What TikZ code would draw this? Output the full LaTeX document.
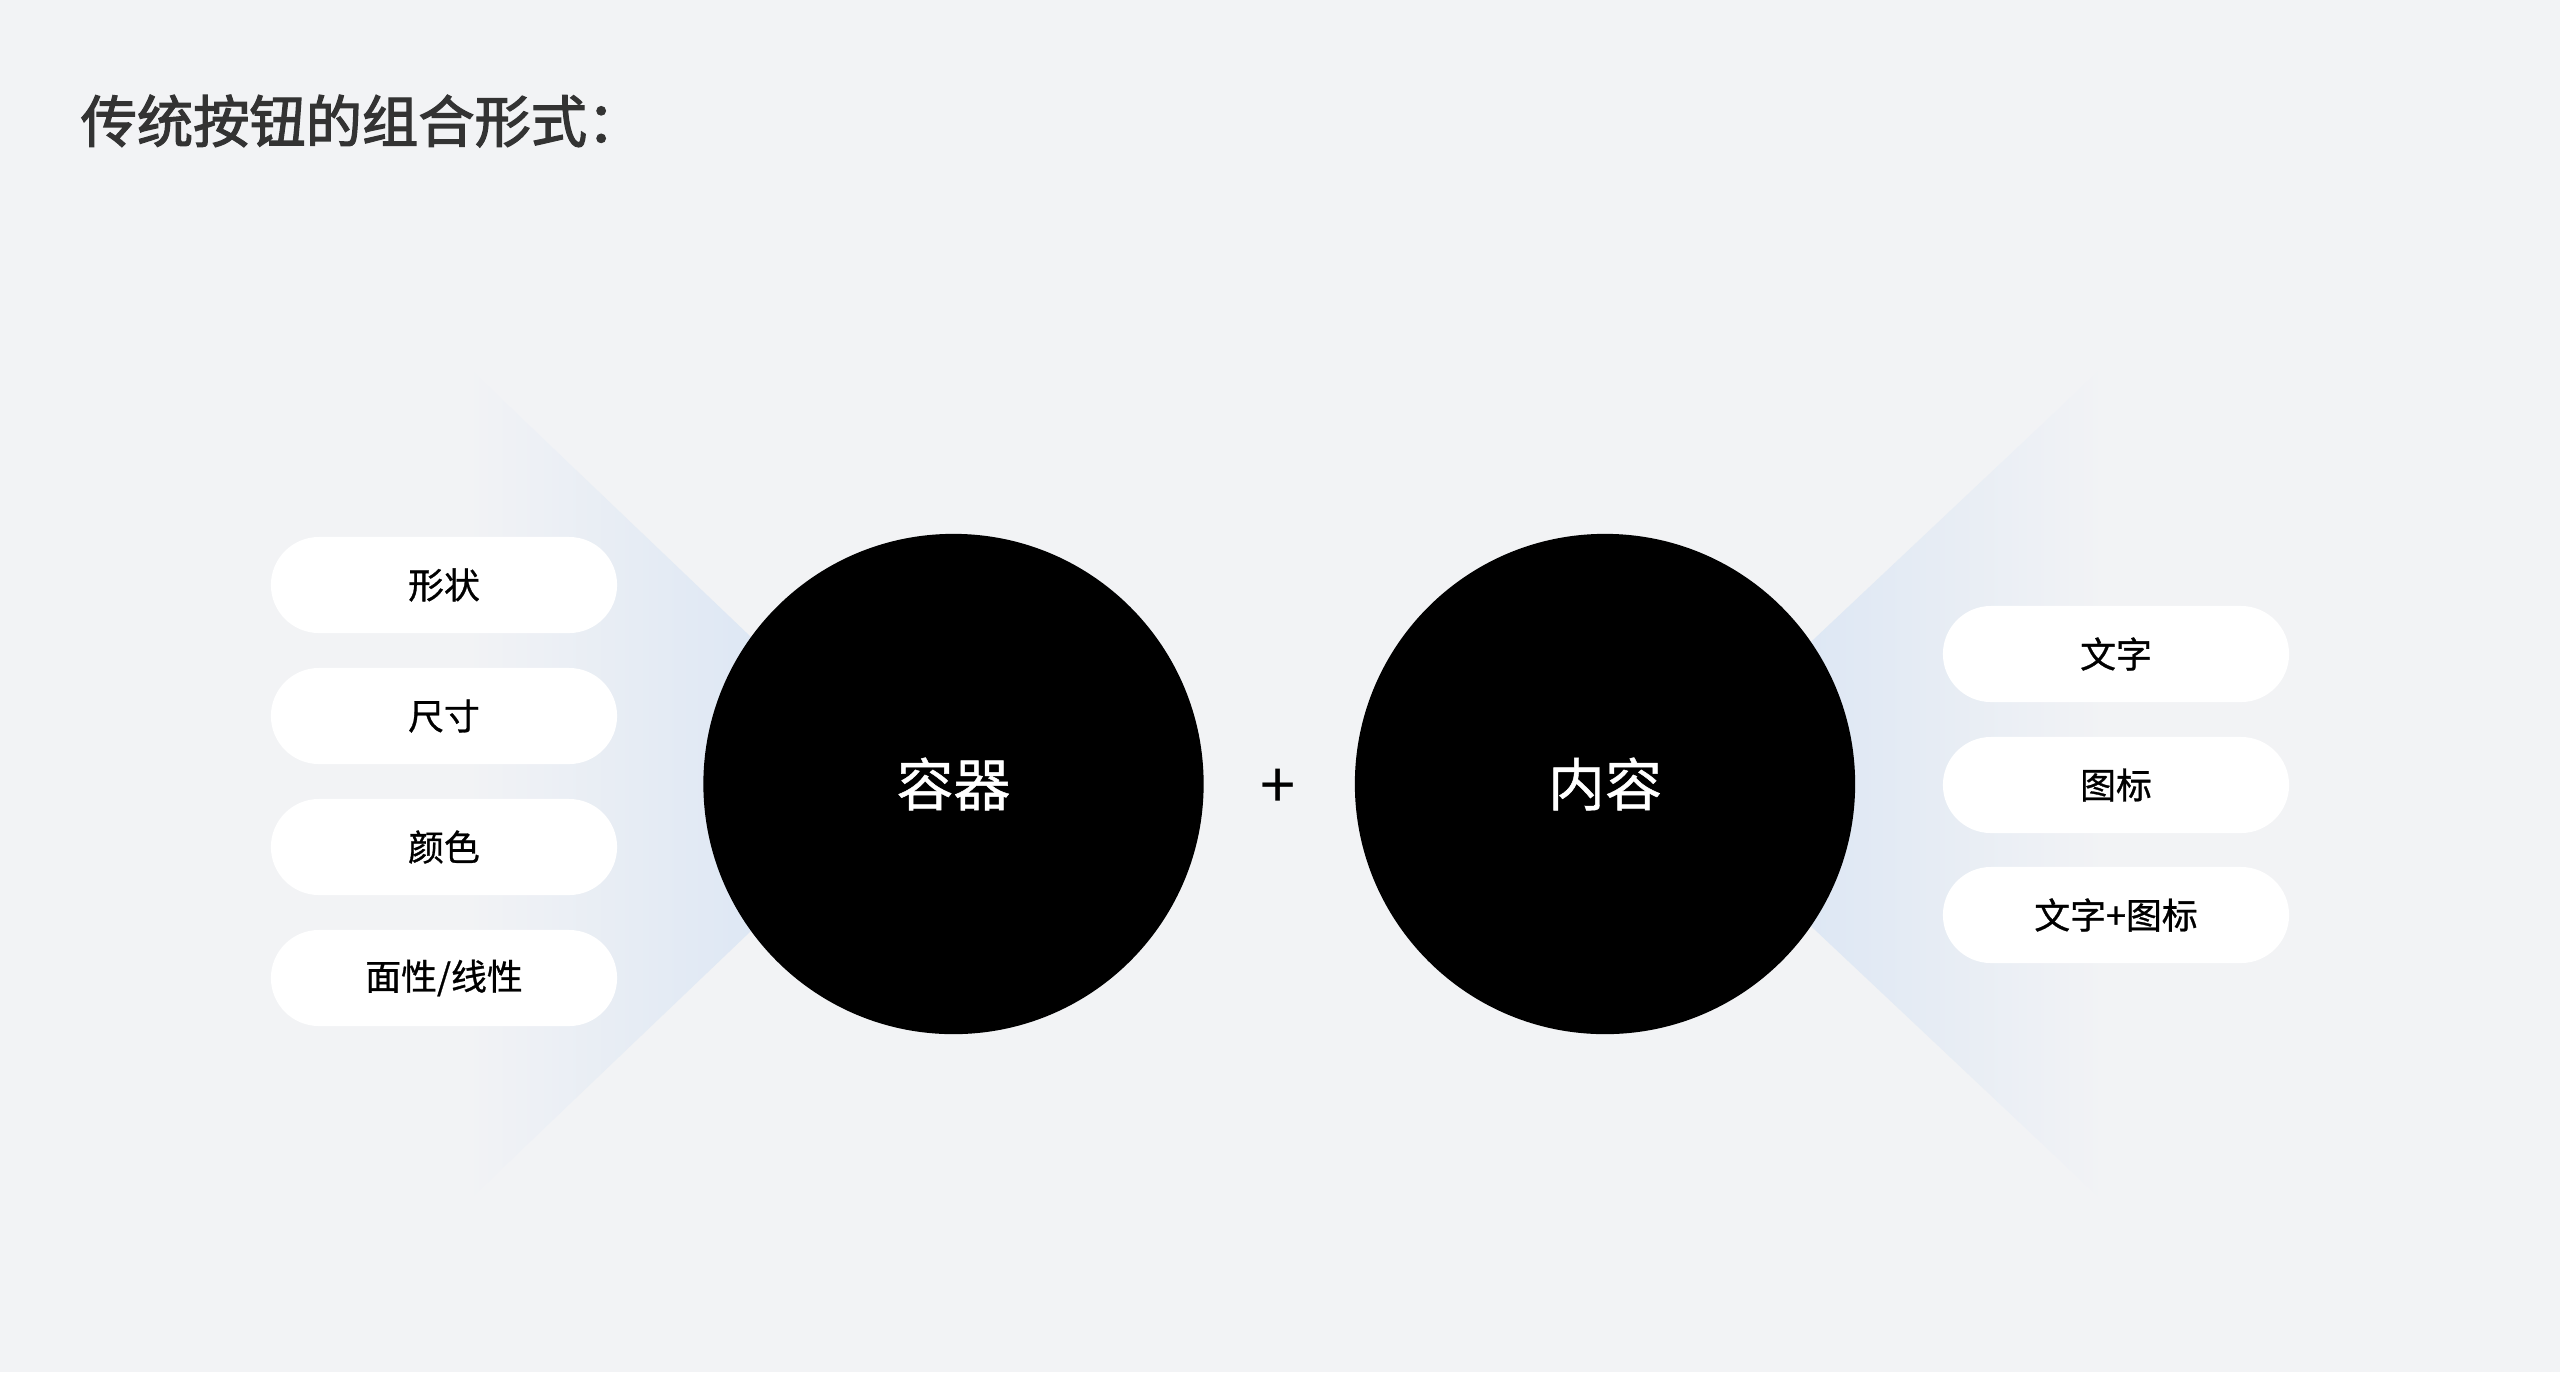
\documentclass[tikz,border=0pt]{standalone}
\usepackage{fontspec}
\usepackage{tikz}
\setmainfont{Noto Sans CJK SC}
\newfontfamily\cjkmid[FakeBold=0.8]{Noto Sans CJK SC}
\newfontfamily\cjkhead[FakeBold=2.2]{Noto Sans CJK SC}
\usetikzlibrary{positioning}
\definecolor{bg}{HTML}{F2F3F5}
\definecolor{glow}{HTML}{D3E1F3}
\definecolor{titlegray}{HTML}{333333}

\begin{document}
\begin{tikzpicture}[x=0.01cm,y=-0.01cm,
    pill/.style={fill=white,rounded corners=0.48cm,minimum width=3.46cm,minimum height=0.96cm,inner sep=0pt,font=\cjkmid\fontsize{10.2}{12}\selectfont},
    disc/.style={circle,fill=black,minimum size=5cm,inner sep=0pt,text=white,font=\cjkmid\fontsize{16.2}{18}\selectfont}]
        \fill[bg] (0,0) rectangle (2560,1372);
        \shade[left color=bg,right color=glow] (466,365) -- (905,784) -- (466,1203) -- cycle;
        \shade[left color=glow,right color=bg] (1660,784) -- (2105,365) -- (2105,1203) -- cycle;

        \node[anchor=west,inner sep=0pt,text=titlegray,font=\cjkhead\fontsize{16}{18}\selectfont] (title) at (80,121) {传统按钮的组合形式：};

        \node[pill] (shape)  at (444,585) {形状};
        \node[pill] (size)   at (444,716) {尺寸};
        \node[pill] (colour) at (444,847) {颜色};
        \node[pill] (fill)   at (444,978) {面性/线性};

        \node[disc] (box)     at (953.5,784) {容器};
        \node[font=\fontsize{18}{20}\selectfont] (plus) at (1278,789) {+};
        \node[disc] (content) at (1605,784) {内容};

        \node[pill] (text)     at (2116,654) {文字};
        \node[pill] (icon)     at (2116,785) {图标};
        \node[pill] (textIcon) at (2116,915) {文字+图标};
\end{tikzpicture}
\end{document}
